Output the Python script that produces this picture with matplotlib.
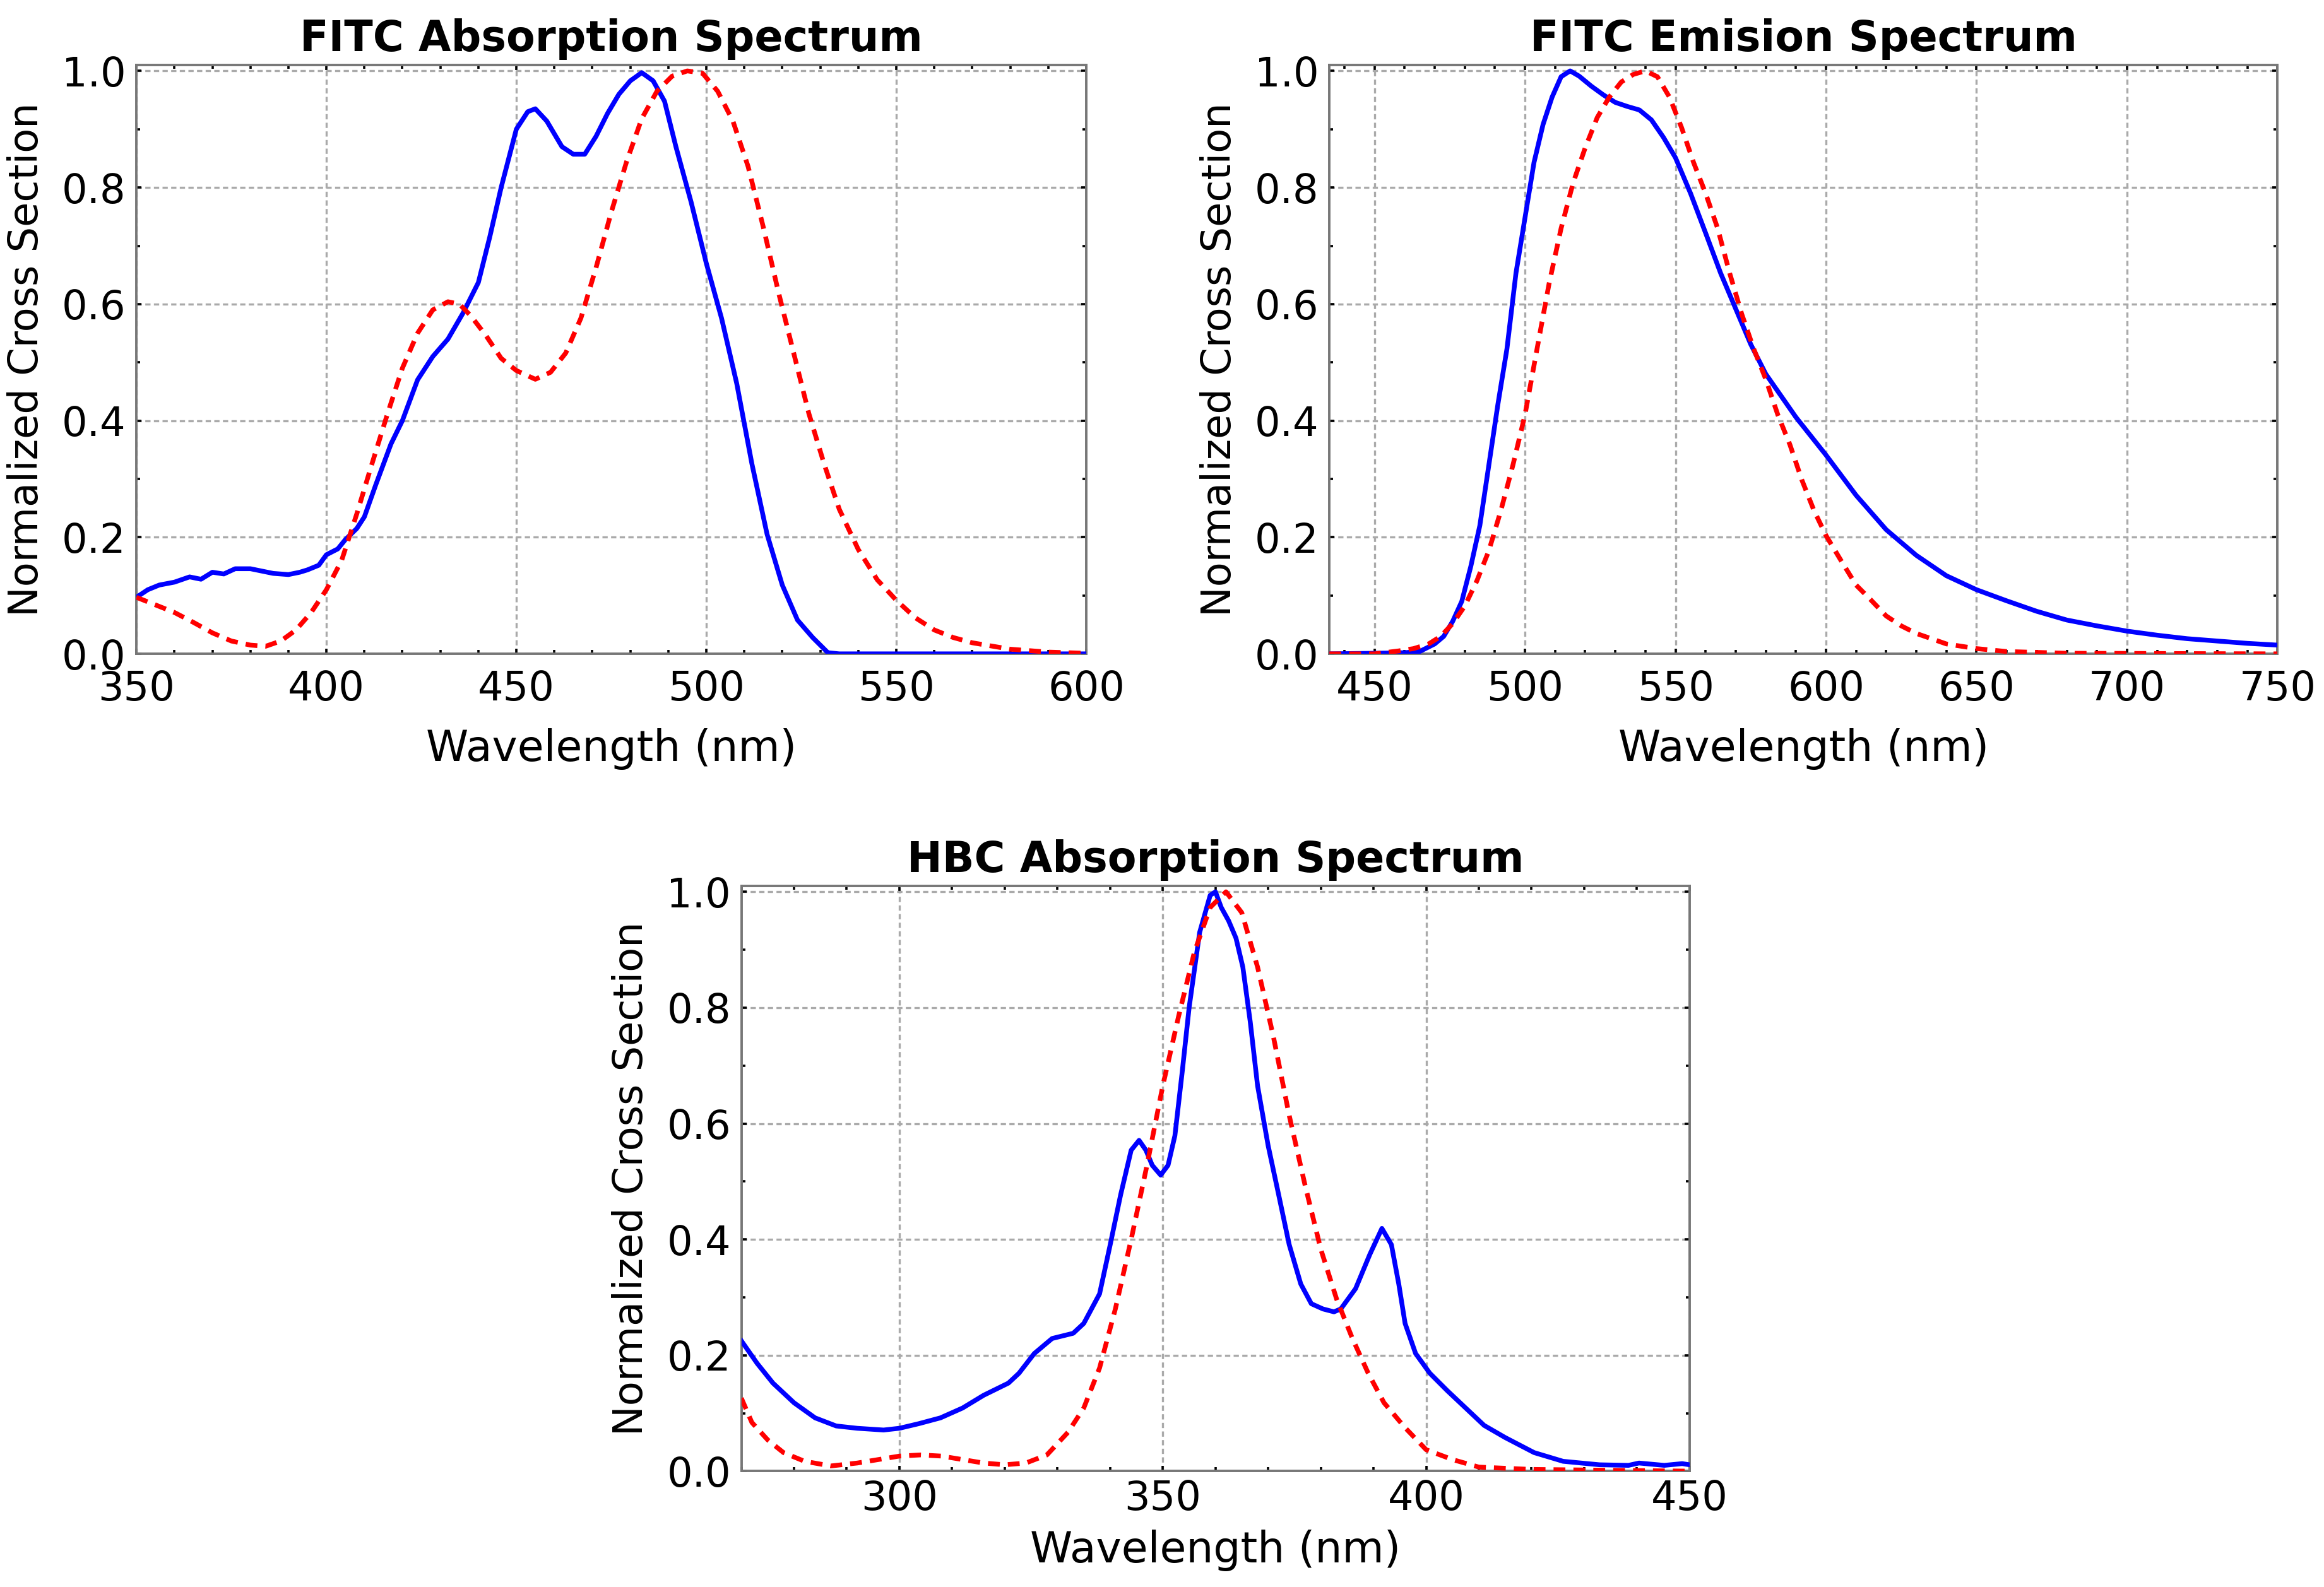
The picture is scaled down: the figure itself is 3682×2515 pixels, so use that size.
from matplotlib import pyplot as plt
from matplotlib.ticker import MultipleLocator, FormatStrFormatter

# FITC absorption: measured (blue) and model (red)
fitc_abs_wl = [350, 353, 356, 360, 364, 367, 370, 373, 376, 380, 383, 386, 390, 393, 395, 398,
               400, 403, 405, 408, 410, 413, 417, 420, 424, 428, 432, 436, 440, 443, 446,
               450, 453, 455, 458, 462, 465, 468, 471, 474, 477, 480, 483, 486, 489, 492,
               496, 500, 504, 508, 512, 516, 520, 524, 528, 532, 535, 560, 600]
fitc_abs_meas = [0.097, 0.11, 0.118, 0.123, 0.132, 0.128, 0.14, 0.137, 0.146, 0.146, 0.142, 0.138,
                 0.136, 0.14, 0.144, 0.152, 0.17, 0.18, 0.196, 0.215, 0.235, 0.29, 0.36, 0.40,
                 0.47, 0.51, 0.54, 0.585, 0.637, 0.715, 0.80, 0.90, 0.93, 0.935, 0.914, 0.87,
                 0.857, 0.857, 0.888, 0.927, 0.96, 0.983, 0.997, 0.983, 0.948, 0.87, 0.775,
                 0.67, 0.576, 0.464, 0.326, 0.205, 0.118, 0.058, 0.028, 0.002, 0.0, 0.0, 0.0]
fitc_abs_model_wl = [350, 355, 360, 365, 370, 375, 380, 384, 388, 392, 396, 400, 404, 408, 412,
                     416, 420, 424, 428, 432, 435, 438, 442, 446, 450, 455, 459, 463, 467, 471,
                     475, 479, 483, 487, 491, 495, 499, 503, 507, 511, 515, 519, 523, 527, 531,
                     535, 540, 545, 550, 555, 560, 565, 570, 580, 590, 600]
fitc_abs_model = [0.097, 0.084, 0.071, 0.054, 0.036, 0.022, 0.015, 0.013, 0.022, 0.041, 0.071,
                  0.11, 0.16, 0.24, 0.326, 0.41, 0.49, 0.55, 0.59, 0.604, 0.60, 0.58, 0.546,
                  0.507, 0.486, 0.471, 0.483, 0.516, 0.576, 0.663, 0.758, 0.844, 0.918, 0.965,
                  0.991, 1.0, 0.996, 0.965, 0.914, 0.836, 0.732, 0.62, 0.516, 0.412, 0.326,
                  0.248, 0.179, 0.127, 0.092, 0.062, 0.041, 0.028, 0.019, 0.008, 0.003, 0.001]

# FITC emission
fitc_em_wl = [435, 450, 460, 465, 470, 473, 476, 479, 482, 485, 488, 491, 494, 497, 500, 503,
              506, 509, 512, 515, 518, 522, 526, 530, 534, 538, 542, 546, 550, 555, 560, 565,
              570, 575, 580, 590, 600, 610, 620, 630, 640, 650, 660, 670, 680, 690, 700, 710,
              720, 730, 740, 750]
fitc_em_meas = [0.0, 0.001, 0.002, 0.004, 0.017, 0.03, 0.056, 0.09, 0.15, 0.22, 0.324, 0.428,
                0.523, 0.653, 0.748, 0.843, 0.908, 0.955, 0.99, 1.0, 0.991, 0.974, 0.959,
                0.946, 0.939, 0.933, 0.916, 0.886, 0.851, 0.79, 0.722, 0.653, 0.592, 0.531,
                0.48, 0.406, 0.341, 0.272, 0.213, 0.169, 0.134, 0.11, 0.091, 0.073, 0.058,
                0.048, 0.039, 0.032, 0.026, 0.022, 0.018, 0.015]
fitc_em_model_wl = [435, 450, 458, 463, 468, 472, 476, 480, 484, 488, 492, 496, 500, 504, 508,
                    512, 516, 520, 524, 528, 532, 536, 540, 544, 548, 552, 556, 560, 564, 568,
                    572, 576, 580, 584, 588, 592, 596, 600, 605, 610, 615, 620, 625, 630, 640,
                    650, 660, 680, 750]
fitc_em_model = [0.0, 0.0, 0.005, 0.009, 0.017, 0.03, 0.052, 0.082, 0.125, 0.177, 0.246,
                 0.324, 0.41, 0.523, 0.635, 0.73, 0.808, 0.868, 0.92, 0.955, 0.981, 0.994, 1.0,
                 0.99, 0.955, 0.903, 0.843, 0.79, 0.73, 0.653, 0.583, 0.523, 0.471, 0.41,
                 0.359, 0.298, 0.246, 0.203, 0.16, 0.118, 0.092, 0.065, 0.048, 0.035, 0.017,
                 0.009, 0.004, 0.001, 0.0]

# HBC absorption
hbc_wl = [270, 273, 276, 280, 284, 288, 292, 297, 300, 303.7, 307.8, 312, 316, 320.7, 322.7,
          325.6, 329, 333, 335, 338, 340, 342, 344, 345.5, 346.8, 348, 349.6, 351, 352.3,
          353.7, 355, 357, 359, 360, 361.1, 362.5, 363.9, 365.2, 366.6, 368, 370, 372, 374,
          376.2, 378.2, 380.4, 382.5, 383.8, 386.6, 389.3, 391.6, 393.4, 394.8, 396, 398,
          400.7, 404, 407.5, 411, 415, 420.5, 426, 432.9, 438.4, 440.4, 445.2, 448.6, 450]
hbc_meas = [0.225, 0.186, 0.152, 0.118, 0.092, 0.078, 0.074, 0.071, 0.074, 0.082, 0.092,
            0.109, 0.131, 0.152, 0.169, 0.203, 0.229, 0.238, 0.255, 0.306, 0.39, 0.477, 0.554,
            0.571, 0.554, 0.528, 0.511, 0.528, 0.579, 0.69, 0.80, 0.93, 0.994, 1.0, 0.973,
            0.95, 0.92, 0.87, 0.776, 0.665, 0.562, 0.477, 0.391, 0.323, 0.289, 0.28, 0.275,
            0.28, 0.315, 0.374, 0.419, 0.391, 0.323, 0.255, 0.203, 0.169, 0.139, 0.109, 0.079,
            0.058, 0.032, 0.017, 0.011, 0.01, 0.014, 0.01, 0.013, 0.011]
hbc_model_wl = [270, 272, 275, 278, 282, 287, 292, 296, 300, 304, 308, 312, 316, 320, 324,
                328, 332, 335, 338, 341, 344, 347, 350, 353, 356, 359, 362, 365, 368, 371,
                374, 377, 380, 383, 386, 389, 392, 396, 400, 405, 410, 420, 450]
hbc_model = [0.126, 0.084, 0.054, 0.032, 0.017, 0.009, 0.014, 0.02, 0.026, 0.028, 0.026,
             0.02, 0.014, 0.011, 0.014, 0.028, 0.067, 0.109, 0.178, 0.28, 0.40, 0.528, 0.665,
             0.785, 0.896, 0.973, 1.0, 0.964, 0.87, 0.75, 0.614, 0.494, 0.383, 0.297, 0.229,
             0.169, 0.118, 0.075, 0.037, 0.02, 0.007, 0.003, 0.0]

titles = ['FITC Absorption Spectrum', 'FITC Emision Spectrum', 'HBC Absorption Spectrum']
xlims = [(350, 600), (435, 750), (270, 450)]

fig = plt.figure(figsize=(18.41, 12.575), dpi=200)
boxes = [[0.0587, 0.588, 0.4087, 0.371],
         [0.572, 0.588, 0.408, 0.371],
         [0.319, 0.073, 0.408, 0.3687]]
# the lower panel sits a bit tighter to its labels
tick_pads = [9, 9, 4.5]
label_pads = [11, 11, 6.5]
series = [(fitc_abs_wl, fitc_abs_meas, fitc_abs_model_wl, fitc_abs_model),
          (fitc_em_wl, fitc_em_meas, fitc_em_model_wl, fitc_em_model),
          (hbc_wl, hbc_meas, hbc_model_wl, hbc_model)]

for i, (xw, yw, xm, ym) in enumerate(series):
    ax = fig.add_axes(boxes[i])
    ax.plot(xw, yw, color='#0000ff', lw=2.7, zorder=3)
    ax.plot(xm, ym, color='#ff0000', lw=2.7, ls=(0, (2.5, 1.7)), zorder=3)
    ax.set_xlim(*xlims[i])
    ax.set_ylim(0, 1.01)
    ax.xaxis.set_major_locator(MultipleLocator(50))
    ax.xaxis.set_minor_locator(MultipleLocator(10))
    ax.yaxis.set_major_locator(MultipleLocator(0.2))
    ax.yaxis.set_minor_locator(MultipleLocator(0.1))
    ax.yaxis.set_major_formatter(FormatStrFormatter('%.1f'))
    ax.grid(True, which='major', color='#aaaaaa', lw=1.2, ls=(0, (2.5, 1.6)))
    ax.tick_params(which='both', direction='in', top=True, right=True, color='black',
                   labelsize=23)
    ax.tick_params(which='major', length=3, width=1.3)
    ax.tick_params(axis='x', which='major', pad=tick_pads[i])
    ax.tick_params(axis='y', which='major', pad=6)
    ax.tick_params(which='minor', length=2, width=1.3)
    for sp in ax.spines.values():
        sp.set_color('#777777')
        sp.set_linewidth(1.4)
    ax.set_title(titles[i], fontsize=24, fontweight='bold', pad=8)
    ax.set_xlabel('Wavelength (nm)', fontsize=24.5, labelpad=label_pads[i])
    ax.set_ylabel('Normalized Cross Section', fontsize=23, labelpad=9)

fig.savefig('out.png', dpi=200)
